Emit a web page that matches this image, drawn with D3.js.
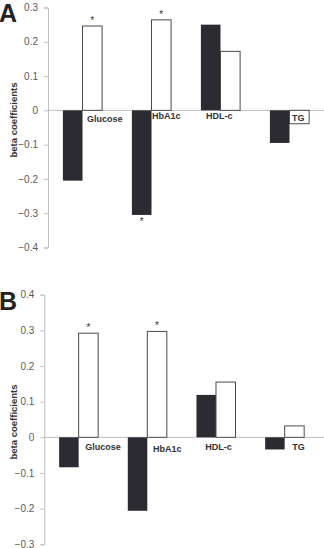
<!DOCTYPE html>
<html>
  <head>
    <meta charset="utf-8"/>
    <script type="text/javascript" src="https://cdnjs.cloudflare.com/ajax/libs/d3/7.8.5/d3.min.js"></script>
    <style type="text/css">

html, body {
  margin: 0;
  padding: 0;
  background: #fff;
}

svg {
  font-family: Arial, "Liberation Sans", sans-serif;
}

.tick text {
  fill: #595959;
  font-size: 10px;
}

.bar-dark {
  fill: #2b2b31;
}

.bar-light {
  fill: #fff;
  stroke: #4a4a4a;
  stroke-width: 1px;
}

.cat {
  font-size: 9px;
  font-weight: bold;
  fill: #333;
}

    </style>
  </head>
  <body>
    <script type="text/javascript">

// categories shared by both panels
var categories = ["Glucose", "HbA1c", "HDL-c", "TG"];

// panel A
var aDark  = [-0.205, -0.305, 0.250, -0.095];
var aLight = [ 0.246,  0.264, 0.172, -0.039];
var aDarkStar  = [false, true, false, false];
var aLightStar = [true, true, false, false];
var aTicks = [0.3, 0.2, 0.1, 0, -0.1, -0.2, -0.3, -0.4];

// panel B
var bDark  = [-0.084, -0.206, 0.119, -0.034];
var bLight = [ 0.292,  0.297, 0.155,  0.032];
var bDarkStar  = [false, false, false, false];
var bLightStar = [true, true, false, false];
var bTicks = [0.4, 0.3, 0.2, 0.1, 0, -0.1, -0.2, -0.3];

var svg = d3.select("body").append("svg")
    .attr("width", 324)
    .attr("height", 548);

function panel(opt) {
  var g = svg.append("g");

  var y = d3.scaleLinear()
      .domain(d3.extent(opt.ticks))
      .range([opt.bottom, opt.top]);

  var x0 = d3.scaleBand()
      .domain(categories)
      .range([opt.left, opt.right]);

  var x1 = d3.scaleBand()
      .domain(["dark", "light"])
      .range([0, x0.bandwidth()])
      .paddingOuter(0.76);

  // y axis
  var axis = g.append("g")
      .attr("transform", "translate(" + opt.left + ",0)")
      .call(d3.axisLeft(y).tickValues(opt.ticks).tickSize(4).tickPadding(6)
        .tickFormat(function(d) { return d === 0 ? "0" : d3.format(".1f")(d); }));
  axis.selectAll("path, line").attr("stroke", "#bfbfbf");

  // zero line
  g.append("line")
      .attr("x1", opt.left).attr("x2", 324)
      .attr("y1", y(0)).attr("y2", y(0))
      .attr("stroke", "#bfbfbf");

  var rows = categories.map(function(c, i) {
    return {cat: c, i: i, dark: opt.dark[i], light: opt.light[i],
            darkStar: opt.darkStar[i], lightStar: opt.lightStar[i]};
  });

  var grp = g.selectAll(".grp")
      .data(rows)
    .enter().append("g")
      .attr("transform", function(d) { return "translate(" + x0(d.cat) + ",0)"; });

  grp.append("rect")
      .attr("class", "bar-dark")
      .attr("x", x1("dark"))
      .attr("width", x1.bandwidth())
      .attr("y", function(d) { return y(Math.max(0, d.dark)); })
      .attr("height", function(d) { return Math.abs(y(d.dark) - y(0)); });

  grp.append("rect")
      .attr("class", "bar-light")
      .attr("x", x1("light"))
      .attr("width", x1.bandwidth())
      .attr("y", function(d) { return y(Math.max(0, d.light)); })
      .attr("height", function(d) { return Math.abs(y(d.light) - y(0)); });

  // significance marks
  grp.filter(function(d) { return d.lightStar; }).append("text")
      .attr("x", x1("light") + x1.bandwidth() / 2)
      .attr("y", function(d) { return d.light > 0 ? y(d.light) - 2 : y(d.light) + 9; })
      .attr("text-anchor", "middle")
      .attr("font-size", 10)
      .attr("fill", "#333")
      .text("*");

  grp.filter(function(d) { return d.darkStar; }).append("text")
      .attr("x", x1("dark") + x1.bandwidth() / 2)
      .attr("y", function(d) { return d.dark > 0 ? y(d.dark) - 2 : y(d.dark) + 10; })
      .attr("text-anchor", "middle")
      .attr("font-size", 10)
      .attr("fill", "#333")
      .text("*");

  // category labels near the zero line
  grp.append("text")
      .attr("class", "cat")
      .attr("x", function(d) { return opt.labelDx[d.i]; })
      .attr("y", function(d) { return y(0) + opt.labelDy[d.i]; })
      .text(function(d) { return d.cat; });

  // axis title
  g.append("text")
      .attr("transform", "translate(17," + opt.titleY + ") rotate(-90)")
      .attr("text-anchor", "middle")
      .attr("font-size", 9.5)
      .attr("font-weight", "bold")
      .attr("fill", "#333")
      .text("beta coefficients");

  // panel letter
  g.append("text")
      .attr("x", -1)
      .attr("y", opt.letterY)
      .attr("font-size", 25)
      .attr("font-weight", "bold")
      .attr("fill", "#222")
      .text(opt.letter);
}

panel({
  letter: "A", letterY: 22,
  top: 7.5, bottom: 247.5, left: 48, right: 324,
  ticks: aTicks, dark: aDark, light: aLight,
  darkStar: aDarkStar, lightStar: aLightStar,
  labelDx: [39, 35, 20, 37], labelDy: [12, 8.5, 9, 10.5],
  titleY: 120
});

panel({
  letter: "B", letterY: 310,
  top: 294.7, bottom: 544.3, left: 44.3, right: 319,
  ticks: bTicks, dark: bDark, light: bLight,
  darkStar: bDarkStar, lightStar: bLightStar,
  labelDx: [41, 40, 23.5, 42], labelDy: [13, 15, 12.5, 12.5],
  titleY: 422
});

    </script>
  </body>
</html>
